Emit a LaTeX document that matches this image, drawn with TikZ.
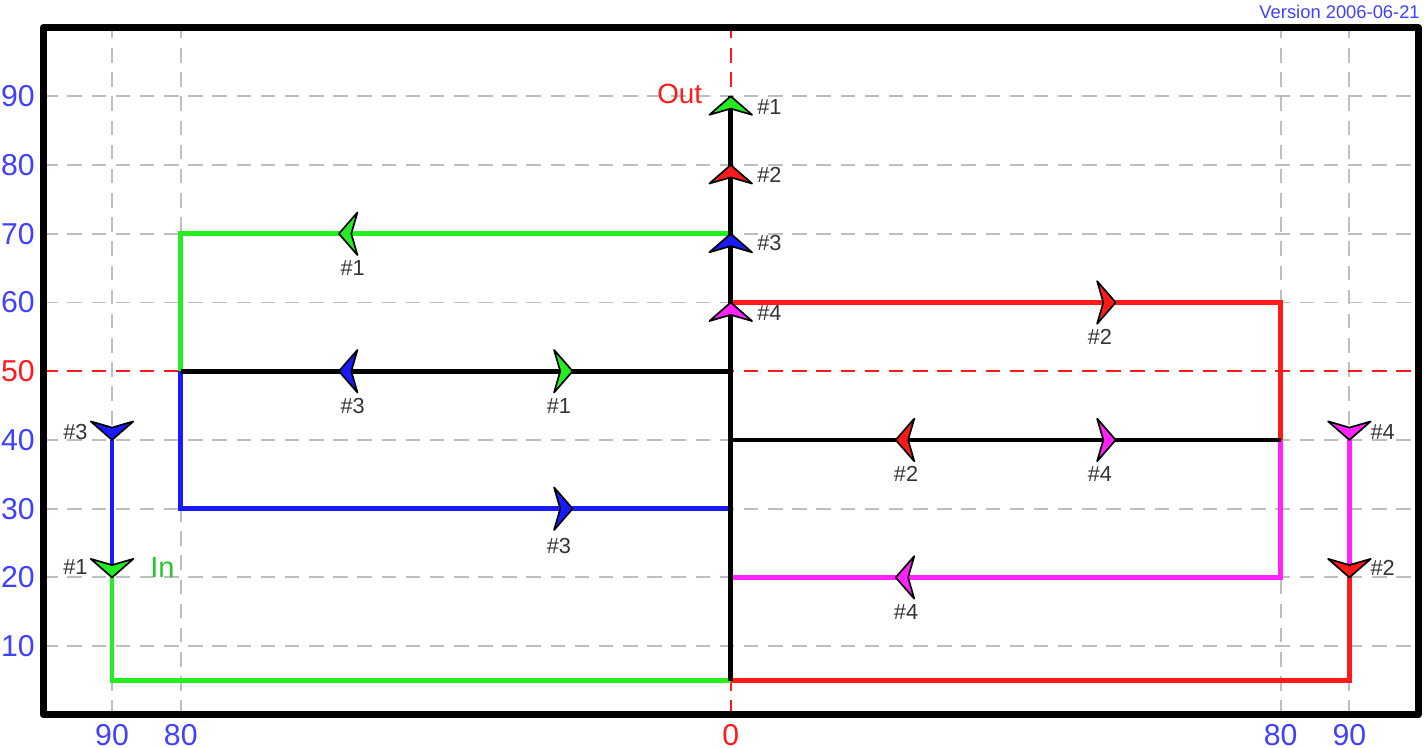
\documentclass[tikz,border=0pt]{standalone}
\usepackage{fontspec}
\setmainfont{Liberation Sans}
\definecolor{cgreen}{RGB}{34,238,34}
\definecolor{cred}{RGB}{255,26,26}
\definecolor{cblue}{RGB}{26,26,255}
\definecolor{cmag}{RGB}{255,34,255}
\definecolor{axblue}{RGB}{64,64,255}
\definecolor{gridgray}{RGB}{190,190,190}
\definecolor{tagc}{RGB}{51,51,51}
\definecolor{ingreen}{RGB}{40,200,40}
\newcommand\dart[4]{%
  \filldraw[fill=#4,draw=black,line width=0.7pt,line join=round,shift={(#1,#2)},rotate=#3]
    (0,0) -- (-2.7,3.1) .. controls (-2.2,1.5) .. (-1.8,0)
    .. controls (-2.2,-1.5) .. (-2.7,-3.1) -- cycle;}
\begin{document}
\begin{tikzpicture}[x=0.1cm,y=0.1cm,
  grid/.style={draw=gridgray,line width=0.8pt,dash pattern=on 6pt off 4pt},
  axisred/.style={draw=cred,line width=0.8pt,dash pattern=on 6pt off 4pt},
  flow/.style={line width=2pt,line join=miter},
  tag/.style={font=\fontsize{9}{10}\selectfont,text=tagc,inner sep=0pt},
  ax/.style={font=\fontsize{12.5}{13}\selectfont,text=axblue,inner sep=0pt}]
\useasboundingbox (-106.3,-4.8) rectangle (100.85,104.0);
% grid
\foreach \y in {10,20,30,40,60,70,80,90} \draw[grid] (-100,\y) -- (100,\y);
\foreach \x in {-90,-80,80,90} \draw[grid] (\x,0) -- (\x,100);
\draw[axisred] (-100,50) -- (100,50);
\draw[axisred] (0,0) -- (0,100);
% flows
\draw[flow,cgreen] (-90,20) -- (-90,5) -- (0,5);
\draw[flow,cred] (90,20) -- (90,5) -- (0,5);
\draw[flow,cgreen] (0,70) -- (-80,70) -- (-80,50);
\draw[flow,cblue] (-80,50) -- (-80,30) -- (0,30);
\draw[flow,cblue] (-90,40) -- (-90,20);
\draw[flow,cred] (0,60) -- (80,60) -- (80,40);
\draw[flow,cmag] (80,40) -- (80,20) -- (0,20);
\draw[flow,cmag] (90,40) -- (90,20);
\draw[flow,black] (0,50) -- (-80,50);
\draw[flow,black] (0,40) -- (80,40);
\draw[flow,black] (0,5) -- (0,90);
% frame
\draw[line width=2.9pt,line join=round] (-100,0) rectangle (100,100);
% arrowheads
\dart{0}{90}{90}{cgreen}
\dart{0}{80}{90}{cred}
\dart{0}{70}{90}{cblue}
\dart{0}{60}{90}{cmag}
\dart{-90}{40}{-90}{cblue}
\dart{-90}{20}{-90}{cgreen}
\dart{90}{40}{-90}{cmag}
\dart{90}{20}{-90}{cred}
\dart{-57}{70}{180}{cgreen}
\dart{-57}{50}{180}{cblue}
\dart{24}{40}{180}{cred}
\dart{24}{20}{180}{cmag}
\dart{-23}{50}{0}{cgreen}
\dart{-23}{30}{0}{cblue}
\dart{56}{60}{0}{cred}
\dart{56}{40}{0}{cmag}
% tags
\node[tag,anchor=west] (t1) at (3.8,88.5) {\#1};
\node[tag,anchor=west] (t2) at (3.8,78.5) {\#2};
\node[tag,anchor=west] (t3) at (3.8,68.6) {\#3};
\node[tag,anchor=west] (t4) at (3.8,58.4) {\#4};
\node[tag] (l1) at (-55,65) {\#1};
\node[tag] (l2) at (-55,45) {\#3};
\node[tag] (l3) at (-25,45) {\#1};
\node[tag] (l4) at (-25,24.6) {\#3};
\node[tag] (r1) at (53.7,55) {\#2};
\node[tag] (r2) at (25.5,35) {\#2};
\node[tag] (r3) at (53.7,35) {\#4};
\node[tag] (r4) at (25.5,15) {\#4};
\node[tag,anchor=east] (v1) at (-93.5,41.2) {\#3};
\node[tag,anchor=east] (v2) at (-93.5,21.5) {\#1};
\node[tag,anchor=west] (v3) at (93,41.2) {\#4};
\node[tag,anchor=west] (v4) at (93,21.4) {\#2};
\node[font=\fontsize{12}{13}\selectfont,text=ingreen,anchor=west,inner sep=0pt] (in) at (-84.5,21.4) {In};
\node[font=\fontsize{11.5}{12}\selectfont,text=cred,anchor=east,inner sep=0pt] (out) at (-4.1,90.4) {Out};
% axis labels
\foreach \y in {10,20,30,40,60,70,80,90} \node[ax] (ay\y) at (-103.7,\y) {\y};
\node[ax,text=cred] (ay50) at (-103.7,50) {50};
\node[ax] (bx1) at (-90,-2.9) {90};
\node[ax] (bx2) at (-80,-2.9) {80};
\node[ax,text=cred] (bx3) at (0,-2.9) {0};
\node[ax] (bx4) at (80,-2.9) {80};
\node[ax] (bx5) at (90,-2.9) {90};
\node[font=\fontsize{7.6}{8}\selectfont,text=axblue,anchor=east,inner sep=0pt] (ver) at (100.3,102.3) {Version 2006-06-21};
\end{tikzpicture}
\end{document}
